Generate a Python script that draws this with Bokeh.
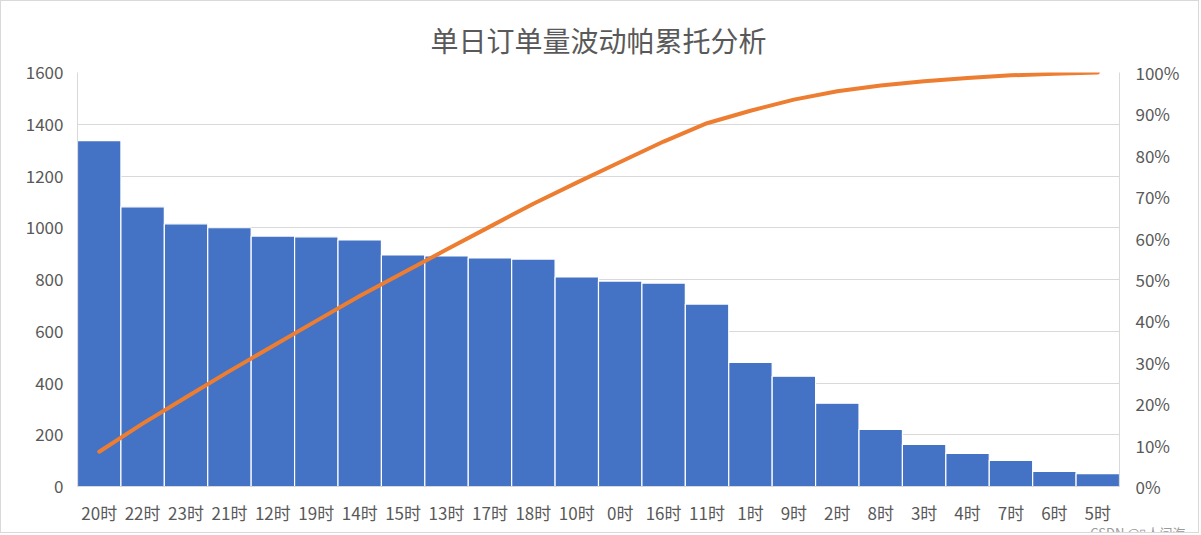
import numpy as np
from bokeh.plotting import figure
from bokeh.models import (Range1d, LinearAxis, FixedTicker, NumeralTickFormatter,
                          ColumnDataSource, Title)
from bokeh.embed import file_html
from bokeh.resources import INLINE

hours = ["20时", "22时", "23时", "21时", "12时", "19时", "14时", "15时", "13时", "17时",
         "18时", "10时", "0时", "16时", "11时", "1时", "9时", "2时", "8时", "3时",
         "4时", "7时", "6时", "5时"]
orders = [1337, 1081, 1015, 1000, 968, 965, 953, 895, 891, 883,
          879, 810, 794, 786, 705, 480, 426, 322, 221, 163,
          128, 101, 58, 50]
cum_pct = list(np.cumsum(orders) / np.sum(orders))

title_text = "单日订单量波动帕累托分析"
watermark = "CSDN @\u25af人间海"
y_ticks = [0, 200, 400, 600, 800, 1000, 1200, 1400, 1600]
pct_ticks = [0, 0.1, 0.2, 0.3, 0.4, 0.5, 0.6, 0.7, 0.8, 0.9, 1.0]

FONT = "Noto Sans CJK SC"
TXT = "#595959"
GRID = "#D9D9D9"

src = ColumnDataSource(dict(h=hours, v=orders, c=cum_pct))

p = figure(width=1199, height=533, x_range=hours, y_range=Range1d(0, 1600),
           output_backend="svg", toolbar_location=None,
           min_border_left=76, min_border_right=81, min_border_top=71, min_border_bottom=48)
p.styles = {"border": "1px solid #D9D9D9"}
p.extra_y_ranges = {"pct": Range1d(0, 1)}

p.vbar(x="h", top="v", width=1.0, source=src, fill_color="#4472C4",
       line_color="white", line_width=1.2)
p.line(x="h", y="c", y_range_name="pct", source=src, line_color="#ED7D31",
       line_width=4, line_cap="round", line_join="round")

p.outline_line_color = None
p.xgrid.grid_line_color = None
p.ygrid.grid_line_color = GRID
p.ygrid.ticker = FixedTicker(ticks=y_ticks)

for ax in [p.xaxis[0], p.yaxis[0]]:
    ax.axis_line_color = GRID
    ax.major_tick_line_color = None
    ax.minor_tick_line_color = None
    ax.major_label_text_font = FONT
    ax.major_label_text_font_size = "17px"
    ax.major_label_text_color = TXT

p.yaxis[0].ticker = FixedTicker(ticks=y_ticks)
p.yaxis[0].major_label_standoff = 8
p.xaxis[0].major_label_standoff = 7

rax = LinearAxis(y_range_name="pct", ticker=FixedTicker(ticks=pct_ticks),
                 formatter=NumeralTickFormatter(format="0%"))
rax.axis_line_color = GRID
rax.major_tick_line_color = None
rax.minor_tick_line_color = None
rax.major_label_text_font = FONT
rax.major_label_text_font_size = "17px"
rax.major_label_text_color = TXT
rax.major_label_standoff = 10
p.add_layout(rax, "right")

p.title.text = title_text
p.title.align = "center"
p.title.text_font = FONT
p.title.text_font_size = "28px"
p.title.text_font_style = "normal"
p.title.text_color = TXT
p.title.standoff = 26
p.title.offset = 3

wm = Title(text=watermark, align="right", text_font=FONT, text_font_size="13px",
           text_font_style="normal", text_color="#9a9a9a", standoff=-14, offset=-66)
p.add_layout(wm, "below")

open("out.html", "w").write(file_html(p, INLINE))
